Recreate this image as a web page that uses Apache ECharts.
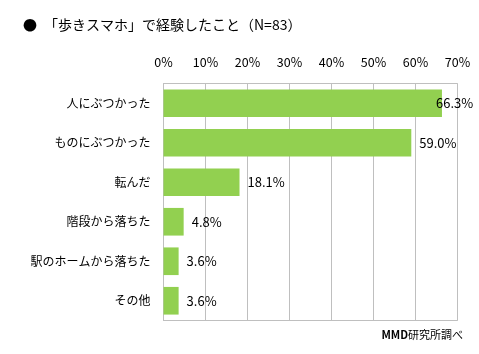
<!DOCTYPE html>
<html><head><meta charset="utf-8">
<script src="https://cdn.jsdelivr.net/npm/echarts@6/dist/echarts.min.js"></script>
<style>html,body{margin:0;padding:0;background:#fff}#c{width:479px;height:354px}</style>
</head><body><div id="c"></div>
<script>
const categories = ['人にぶつかった','ものにぶつかった','転んだ','階段から落ちた','駅のホームから落ちた','その他'];
const values = [66.3, 59.0, 18.1, 4.8, 3.6, 3.6];
const tickLabels = ['0%','10%','20%','30%','40%','50%','60%','70%'];
const FONT = '"Noto Sans CJK JP", sans-serif';
const chart = echarts.init(document.getElementById('c'));
chart.setOption({
  animation: false,
  textStyle: {fontFamily: FONT},
  title: [
    {text: '●　「歩きスマホ」で経験したこと（N=83）', left: 18, top: 13,
     textStyle: {fontFamily: FONT, fontSize: 14, fontWeight: 'normal', color: '#000'}},
    {text: '{b|MMD}研究所調べ', right: 11, top: 324,
     textStyle: {fontFamily: FONT, fontSize: 11, fontWeight: 'normal', color: '#000',
       rich: {b: {fontFamily: FONT, fontSize: 11, fontWeight: 'bold', color: '#000'}}}}
  ],
  grid: {left: 163.5, right: 21.5, top: 83.5, bottom: 33.5, show: true, borderColor: '#bfbfbf', borderWidth: 1, containLabel: false},
  xAxis: {
    type: 'value', position: 'top', min: 0, max: 70, interval: 10,
    axisLine: {show: false}, axisTick: {show: false},
    splitLine: {show: true, lineStyle: {color: '#bfbfbf', width: 1}},
    axisLabel: {margin: 15, color: '#000', fontSize: 12.5, fontFamily: FONT,
      formatter: (v) => tickLabels[Math.round(v / 10)]}
  },
  yAxis: {
    type: 'category', data: categories, inverse: true,
    axisLine: {show: true, lineStyle: {color: '#bfbfbf'}}, axisTick: {show: false},
    axisLabel: {margin: 13, color: '#000', fontSize: 12, fontFamily: FONT}
  },
  series: [{
    type: 'bar', barCategoryGap: '30%',
    itemStyle: {color: '#92d050'},
    data: values.map((v, i) => i === 0 ? {value: v, label: {offset: [-14, 0]}} : v),
    label: {show: true, position: 'right', distance: 8, color: '#000', fontSize: 13, fontFamily: FONT,
      formatter: (p) => p.value.toFixed(1) + '%'}
  }]
});
</script></body></html>
